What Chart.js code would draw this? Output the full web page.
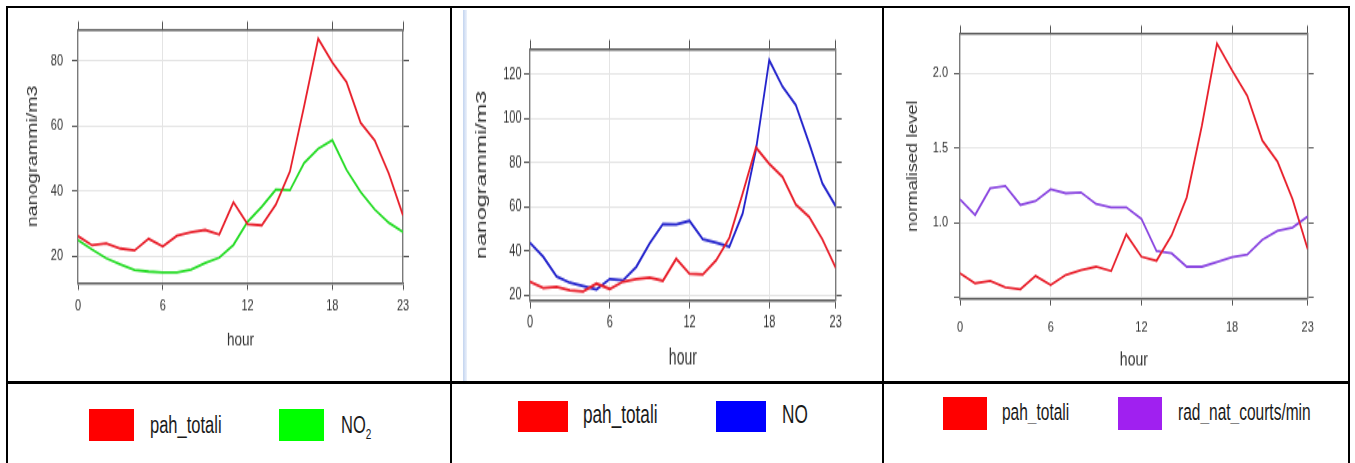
<!DOCTYPE html>
<html>
<head>
<meta charset="utf-8">
<script src="https://cdn.jsdelivr.net/npm/chart.js@4.4.1/dist/chart.umd.min.js"></script>
<style>
  html, body { margin: 0; padding: 0; background: #fff; }
  body { width: 1355px; height: 463px; position: relative; overflow: hidden;
         font-family: "Liberation Sans", Arial, sans-serif; }
  .rule { position: absolute; background: #000; }
  .panel { position: absolute; top: 8px; transform-origin: 0 0; filter: blur(0.35px); }
  .panel canvas { display: block; }
  .swatch { position: absolute; }
  .key { position: absolute; color: #1a1a1a; white-space: nowrap;
         line-height: 20px; transform: scaleY(1.5); transform-origin: 0 50%; }
  .key sub { font-size: 10px; vertical-align: -4px; line-height: 0; }
  .edge { position: absolute; left: 463px; top: 10px; width: 4px; height: 371px;
          background: linear-gradient(to right, #c3d4ef, #edf2fb); }
</style>
</head>
<body>
<!-- table frame -->
<div class="rule" style="left:6px;top:6px;width:1344px;height:2px"></div>
<div class="rule" style="left:6px;top:381px;width:1344px;height:3px"></div>
<div class="rule" style="left:6px;top:6px;width:2px;height:457px"></div>
<div class="rule" style="left:450px;top:6px;width:2px;height:457px"></div>
<div class="rule" style="left:882px;top:6px;width:2px;height:457px"></div>
<div class="rule" style="left:1348px;top:6px;width:2px;height:457px"></div>
<div class="edge"></div>

<div class="panel" id="p1"><canvas id="c1"></canvas></div>
<div class="panel" id="p2"><canvas id="c2"></canvas></div>
<div class="panel" id="p3"><canvas id="c3"></canvas></div>
<div id="legends"></div>

<script>
// ---- data: hourly means ----
const hours = [0, 1, 2, 3, 4, 5, 6, 7, 8, 9, 10, 11, 12, 13, 14, 15, 16, 17, 18, 19, 20, 21, 22, 23];

const pahTotali = [26.1, 23.3, 23.9, 22.3, 21.7, 25.3, 22.9, 26.2, 27.3, 28.0, 26.6, 36.5,
                   29.8, 29.4, 35.8, 46.0, 66.0, 86.8, 79.5, 73.5, 61.0, 55.5, 45.3, 32.5];
const no2       = [24.9, 22.0, 19.3, 17.4, 15.7, 15.2, 14.9, 14.9, 15.8, 17.8, 19.5, 23.4,
                   30.5, 35.1, 40.4, 40.2, 48.6, 53.0, 55.6, 46.5, 39.7, 34.3, 30.2, 27.4];
const no        = [43.8, 37.4, 28.6, 25.7, 24.2, 22.6, 27.4, 26.8, 32.9, 43.5, 52.2, 52.0,
                   53.7, 45.3, 43.8, 42.0, 57.0, 85.7, 126.3, 114.3, 106.0, 88.7, 70.6, 60.3];
const pahTotaliNorm = [0.661, 0.594, 0.610, 0.567, 0.554, 0.643, 0.583, 0.650, 0.683, 0.705, 0.676, 0.922,
                       0.772, 0.745, 0.915, 1.170, 1.650, 2.200, 2.020, 1.850, 1.550, 1.410, 1.156, 0.823];
const radNatCounts  = [1.157, 1.052, 1.230, 1.246, 1.119, 1.145, 1.224, 1.197, 1.203, 1.125, 1.103, 1.103,
                       1.026, 0.810, 0.795, 0.705, 0.705, 0.737, 0.770, 0.786, 0.886, 0.945, 0.967, 1.042];

// ---- tick values and labels ----
const hourTicks = [0, 6, 12, 18, 23];
const hourTickLabels = ['0', '6', '12', '18', '23'];
const concTicksA = [20, 40, 60, 80];
const concTickLabelsA = ['20', '40', '60', '80'];
const concTicksB = [20, 40, 60, 80, 100, 120];
const concTickLabelsB = ['20', '40', '60', '80', '100', '120'];
const normTicks = [0.5, 1.0, 1.5, 2.0];
const normTickLabels = ['', '1.0', '1.5', '2.0'];

// ---- styling ----
const FONT = '"Liberation Sans", Arial, sans-serif';
const TEXT = '#333';
const GRID = '#e4e4e4';
const TICK = '#555';
const FRAME_H = '#5a5a5a';
const FRAME_V = '#7a7a7a';
const LINE = { red: '#e8202c', green: '#27dc27', blue: '#2323cc', purple: '#8a46e0' };
const SWATCH = { red: '#ff0000', green: '#00ff00', blue: '#0000ff', purple: '#a020f0' };

// ---- panel geometry (canvas units, before the vertical stretch) ----
const panels = [
  { id: 'c1', wrap: 'p1', left: 8, width: 442, height: 266, stretch: 1.4,
    yMin: 11.7, yMax: 89.5, yTicks: concTicksA, yLabels: concTickLabelsA, yTitle: 'nanogrammi/m3',
    axisTop: 15, axisBottom: 69.6, axisLeft: 70, axisRight: 47,
    xTickPad: 4.6, xTitleSize: 13.5, xTitlePad: 21, yTitleSize: 14, yTitlePad: 16.6, yTickPad: 9,
    series: [ { label: 'pah_totali', values: pahTotali, color: 'red' },
              { label: 'NO2', values: no2, color: 'green' } ] },
  { id: 'c2', wrap: 'p2', left: 452, width: 430, height: 241, stretch: 1.55,
    yMin: 17.6, yMax: 131.2, yTicks: concTicksB, yLabels: concTickLabelsB, yTitle: 'nanogrammi/m3',
    axisTop: 26.6, axisBottom: 52.2, axisLeft: 78, axisRight: 46.3,
    xTickPad: 2.2, xTitleSize: 14, xTitlePad: 6.8, yTitleSize: 15, yTitlePad: 20.7, yTickPad: 2.5,
    series: [ { label: 'pah_totali', values: pahTotali, color: 'red' },
              { label: 'NO', values: no, color: 'blue' } ] },
  { id: 'c3', wrap: 'p3', left: 884, width: 464, height: 287, stretch: 1.3,
    yMin: 0.489, yMax: 2.268, yTicks: normTicks, yLabels: normTickLabels, yTitle: 'normalised level',
    axisTop: 19.5, axisBottom: 63.2, axisLeft: 76, axisRight: 40.3,
    xTickPad: 10.3, xTitleSize: 14, xTitlePad: 7.8, yTitleSize: 14, yTitlePad: 20.6, yTickPad: 6,
    series: [ { label: 'pah_totali', values: pahTotaliNorm, color: 'red' },
              { label: 'rad_nat_courts/min', values: radNatCounts, color: 'purple' } ] }
];

const setTicks = values => scale => { scale.ticks = values.map(v => ({ value: v })); };
const setSize = (prop, n) => scale => { scale[prop] = n; };
// inner grid lines only; the frame edges are drawn by the axis borders
const innerGrid = n => c => (c.index === 0 || c.index === n - 1) ? 'rgba(0,0,0,0)' : GRID;

function scalesFor(p) {
  return {
    x: {
      type: 'linear', position: 'bottom', min: 0, max: 23,
      afterBuildTicks: setTicks(hourTicks), afterFit: setSize('height', p.axisBottom),
      grid: { color: innerGrid(hourTicks.length), tickColor: TICK, tickLength: 5, lineWidth: 1 },
      border: { color: FRAME_H, width: 1.6 },
      ticks: { padding: p.xTickPad, autoSkip: false, maxRotation: 0, color: TEXT,
               font: { family: FONT, size: 11 }, callback: (v, i) => hourTickLabels[i] },
      title: { display: true, text: 'hour', color: TEXT, font: { family: FONT, size: p.xTitleSize },
               padding: { top: 0, bottom: p.xTitlePad } }
    },
    xTop: {
      type: 'linear', position: 'top', min: 0, max: 23,
      afterBuildTicks: setTicks(hourTicks), afterFit: setSize('height', p.axisTop),
      grid: { drawOnChartArea: false, tickColor: TICK, tickLength: 6 },
      border: { color: FRAME_H, width: 1.6 },
      ticks: { display: false }
    },
    y: {
      type: 'linear', position: 'left', min: p.yMin, max: p.yMax,
      afterBuildTicks: setTicks(p.yTicks), afterFit: setSize('width', p.axisLeft),
      grid: { color: GRID, tickColor: TICK, tickLength: 6, lineWidth: 1 },
      border: { color: FRAME_V, width: 1.4 },
      ticks: { padding: p.yTickPad, color: TEXT, font: { family: FONT, size: 11 },
               callback: (v, i) => p.yLabels[i] },
      title: { display: true, text: p.yTitle, color: TEXT, font: { family: FONT, size: p.yTitleSize },
               padding: { top: p.yTitlePad, bottom: 0 } }
    },
    yRight: {
      type: 'linear', position: 'right', min: p.yMin, max: p.yMax,
      afterBuildTicks: setTicks(p.yTicks), afterFit: setSize('width', p.axisRight),
      grid: { drawOnChartArea: false, tickColor: TICK, tickLength: 6 },
      border: { color: FRAME_V, width: 1.4 },
      ticks: { display: false }
    }
  };
}

const charts = panels.map(p => {
  const wrap = document.getElementById(p.wrap);
  wrap.style.left = p.left + 'px';
  wrap.style.transform = 'scaleY(' + p.stretch + ')';
  const canvas = document.getElementById(p.id);
  canvas.width = p.width;
  canvas.height = p.height;
  return new Chart(canvas, {
    type: 'line',
    data: {
      datasets: p.series.map(s => ({
        label: s.label,
        data: hours.map((h, i) => ({ x: h, y: s.values[i] })),
        borderColor: LINE[s.color],
        borderWidth: 1.8,
        pointRadius: 0,
        tension: 0,
        xAxisID: 'x', yAxisID: 'y'
      }))
    },
    options: {
      responsive: false,
      animation: false,
      events: [],
      layout: { padding: 0 },
      plugins: { legend: { display: false }, tooltip: { enabled: false } },
      scales: scalesFor(p)
    }
  });
});

// ---- legends in the lower row of the table ----
const legendPlacement = [
  { top: 409, w: 45, h: 32, textTop: 414, size: 16.5, items: [{ box: 89, text: 150 }, { box: 279, text: 341 }] },
  { top: 401, w: 50, h: 31, textTop: 404, size: 17.2, items: [{ box: 518, text: 583 }, { box: 716, text: 782 }] },
  { top: 397, w: 44, h: 33, textTop: 401.5, size: 15.5, items: [{ box: 943, text: 1002 }, { box: 1118, text: 1178 }] }
];
const legendHost = document.getElementById('legends');
panels.forEach((p, k) => {
  const place = legendPlacement[k];
  p.series.forEach((s, j) => {
    const box = document.createElement('div');
    box.className = 'swatch';
    Object.assign(box.style, { left: place.items[j].box + 'px', top: place.top + 'px',
      width: place.w + 'px', height: place.h + 'px', background: SWATCH[s.color] });
    legendHost.appendChild(box);
    const txt = document.createElement('div');
    txt.className = 'key';
    txt.style.left = place.items[j].text + 'px';
    txt.style.top = place.textTop + 'px';
    txt.style.fontSize = place.size + 'px';
    txt.innerHTML = s.label.replace(/^NO2$/, 'NO<sub>2</sub>');
    legendHost.appendChild(txt);
  });
});
</script>
</body>
</html>
